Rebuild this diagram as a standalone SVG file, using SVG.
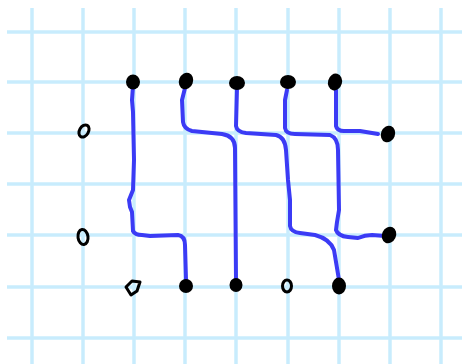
<svg xmlns="http://www.w3.org/2000/svg" width="462" height="364" viewBox="0 0 462 364">
<style>
.grid line{stroke:#c8ecfd;stroke-width:3.5}
.wire{fill:none;stroke:#3b3bf5;stroke-width:4;stroke-linecap:round;stroke-linejoin:round}
.dot{fill:#000}
.open{fill:none;stroke:#000;stroke-width:3;stroke-linejoin:round}
</style>
<rect width="462" height="364" fill="#fff"/>
<g class="grid">
<line x1="32" y1="8" x2="32" y2="364"/>
<line x1="83" y1="8" x2="83" y2="364"/>
<line x1="134" y1="8" x2="134" y2="364"/>
<line x1="185" y1="8" x2="185" y2="364"/>
<line x1="236" y1="8" x2="236" y2="364"/>
<line x1="288" y1="8" x2="288" y2="364"/>
<line x1="339" y1="8" x2="339" y2="364"/>
<line x1="390" y1="8" x2="390" y2="364"/>
<line x1="441" y1="8" x2="441" y2="364"/>
<line x1="7" y1="32" x2="462" y2="32"/>
<line x1="7" y1="82" x2="462" y2="82"/>
<line x1="7" y1="133" x2="462" y2="133"/>
<line x1="7" y1="184" x2="462" y2="184"/>
<line x1="7" y1="235" x2="462" y2="235"/>
<line x1="7" y1="287" x2="462" y2="287"/>
<line x1="7" y1="338" x2="462" y2="338"/>
</g>
<g id="connectors">
<path class="wire" d="M133,86 L132,100 L133,112 L134,160 L133,190 L129,200 L130,207 L132,212 L133,231 Q135,235 142,235 L150,236 L178,235 Q185,236 185,245 L186,280"/>
<path class="wire" d="M185,88 L182,100 L183,122 Q184,129 192,131 L222,134 Q235,136 235,148 L236,280"/>
<path class="wire" d="M237,88 L236,126 Q237,132 246,133 L276,135 Q285,137 286,150 L288,180 L290,200 L290,226 Q291,232 300,233 L315,235 Q330,239 334,250 L339,280"/>
<path class="wire" d="M287,90 L285,100 L285,128 Q286,134 295,134 L330,135 Q338,138 338,150 L339,210 L337,222 L336,230 Q338,236 348,237 L358,238 Q365,235 372,235 L385,236"/>
<path class="wire" d="M336,90 L336,126 Q337,131 344,131 L360,131 L378,134"/>
</g>
<g id="n1"><ellipse class="dot" cx="133" cy="82" rx="7" ry="7.5"/></g>
<g id="n2"><ellipse class="dot" cx="186" cy="81" rx="7" ry="8.5" transform="rotate(20 186 81)"/></g>
<g id="n3"><ellipse class="dot" cx="237" cy="83" rx="8" ry="7"/></g>
<g id="n4"><ellipse class="dot" cx="288" cy="82" rx="8" ry="7"/></g>
<g id="n5"><ellipse class="dot" cx="335" cy="82" rx="7" ry="8.5" transform="rotate(15 335 82)"/></g>
<g id="n6"><ellipse class="dot" cx="388" cy="134" rx="7" ry="8.5" transform="rotate(20 388 134)"/></g>
<g id="n7"><ellipse class="dot" cx="389" cy="235" rx="7" ry="8.5" transform="rotate(25 389 235)"/></g>
<g id="n8"><ellipse class="dot" cx="186" cy="286" rx="7" ry="7"/></g>
<g id="n9"><ellipse class="dot" cx="236" cy="285" rx="6.5" ry="7"/></g>
<g id="n10"><ellipse class="dot" cx="339" cy="286" rx="7" ry="8.5"/></g>
<g id="o1"><ellipse class="open" cx="84" cy="131" rx="4.5" ry="6.5" transform="rotate(30 84 131)"/></g>
<g id="o2"><ellipse class="open" cx="83" cy="237" rx="5" ry="7.5" transform="rotate(-8 83 237)"/></g>
<g id="o3"><path class="open" d="M126,287 L132,281 L140,282 L137,291 L131,295 Z"/></g>
<g id="o4"><ellipse class="open" cx="287" cy="286" rx="4.5" ry="6"/></g>
</svg>
